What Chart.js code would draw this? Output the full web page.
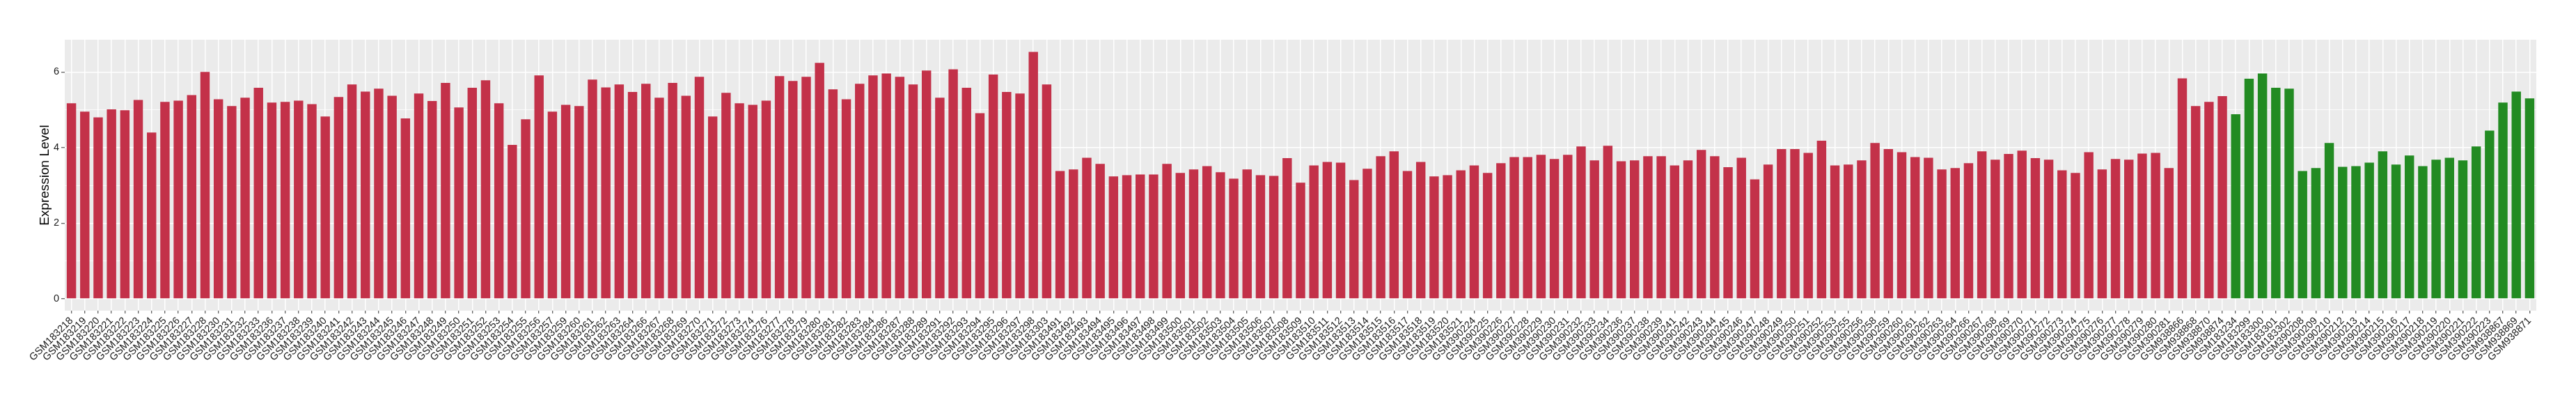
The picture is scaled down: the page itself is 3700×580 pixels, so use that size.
<!DOCTYPE html>
<html>
<head>
<meta charset="utf-8">
<script src="https://cdn.jsdelivr.net/npm/chart.js@4.4.1/dist/chart.umd.min.js"></script>
<style>
    html, body { margin: 0; padding: 0; background: #ffffff; }
    #wrap { width: 3700px; height: 580px; }
</style>
</head>
<body>
<div id="wrap"><canvas id="chart" width="3700" height="580"></canvas></div>
<script>
// samples drawn in red (first group), in plot order
const redSamples = [
    'GSM183218', 'GSM183219', 'GSM183220', 'GSM183221', 'GSM183222', 'GSM183223', 'GSM183224', 'GSM183225',
    'GSM183226', 'GSM183227', 'GSM183228', 'GSM183230', 'GSM183231', 'GSM183232', 'GSM183233', 'GSM183236',
    'GSM183237', 'GSM183238', 'GSM183239', 'GSM183240', 'GSM183241', 'GSM183242', 'GSM183243', 'GSM183244',
    'GSM183245', 'GSM183246', 'GSM183247', 'GSM183248', 'GSM183249', 'GSM183250', 'GSM183251', 'GSM183252',
    'GSM183253', 'GSM183254', 'GSM183255', 'GSM183256', 'GSM183257', 'GSM183259', 'GSM183260', 'GSM183261',
    'GSM183262', 'GSM183263', 'GSM183264', 'GSM183266', 'GSM183267', 'GSM183268', 'GSM183269', 'GSM183270',
    'GSM183271', 'GSM183272', 'GSM183273', 'GSM183274', 'GSM183276', 'GSM183277', 'GSM183278', 'GSM183279',
    'GSM183280', 'GSM183281', 'GSM183282', 'GSM183283', 'GSM183284', 'GSM183286', 'GSM183287', 'GSM183288',
    'GSM183289', 'GSM183291', 'GSM183292', 'GSM183293', 'GSM183294', 'GSM183295', 'GSM183296', 'GSM183297',
    'GSM183298', 'GSM183303',
    'GSM183491', 'GSM183492', 'GSM183493', 'GSM183494', 'GSM183495', 'GSM183496', 'GSM183497', 'GSM183498',
    'GSM183499', 'GSM183500', 'GSM183501', 'GSM183502', 'GSM183503', 'GSM183504', 'GSM183505', 'GSM183506',
    'GSM183507', 'GSM183508', 'GSM183509', 'GSM183510', 'GSM183511', 'GSM183512', 'GSM183513', 'GSM183514',
    'GSM183515', 'GSM183516', 'GSM183517', 'GSM183518', 'GSM183519', 'GSM183520', 'GSM183521',
    'GSM390224', 'GSM390225', 'GSM390226', 'GSM390227', 'GSM390228', 'GSM390229', 'GSM390230', 'GSM390231',
    'GSM390232', 'GSM390233', 'GSM390234', 'GSM390236', 'GSM390237', 'GSM390238', 'GSM390239', 'GSM390241',
    'GSM390242', 'GSM390243', 'GSM390244', 'GSM390245', 'GSM390246', 'GSM390247', 'GSM390248', 'GSM390249',
    'GSM390250', 'GSM390251', 'GSM390252', 'GSM390253', 'GSM390255', 'GSM390256', 'GSM390258', 'GSM390259',
    'GSM390260', 'GSM390261', 'GSM390262', 'GSM390263', 'GSM390264', 'GSM390266', 'GSM390267', 'GSM390268',
    'GSM390269', 'GSM390270', 'GSM390271', 'GSM390272', 'GSM390273', 'GSM390274', 'GSM390275', 'GSM390276',
    'GSM390277', 'GSM390278', 'GSM390279', 'GSM390280', 'GSM390281',
    'GSM938866', 'GSM938868', 'GSM938870', 'GSM938874'
];
const redValues = [
    5.17, 4.95, 4.80, 5.01, 4.99, 5.26, 4.40, 5.21, 5.24, 5.39, 6.00, 5.28, 5.10, 5.32, 5.58, 5.19,
    5.21, 5.24, 5.15, 4.82, 5.34, 5.67, 5.48, 5.56, 5.37, 4.77, 5.43, 5.23, 5.71, 5.06, 5.58, 5.78,
    5.17, 4.07, 4.75, 5.91, 4.95, 5.13, 5.10, 5.80, 5.59, 5.67, 5.47, 5.69, 5.32, 5.71, 5.37, 5.87,
    4.82, 5.45, 5.17, 5.13, 5.24, 5.89, 5.76, 5.87, 6.24, 5.54, 5.28, 5.69, 5.91, 5.96, 5.87, 5.67,
    6.04, 5.32, 6.07, 5.58, 4.91, 5.93, 5.47, 5.43, 6.53, 5.67,
    3.38, 3.42, 3.73, 3.57, 3.24, 3.27, 3.29, 3.29, 3.57, 3.33, 3.42, 3.51, 3.35, 3.18, 3.42, 3.27,
    3.25, 3.72, 3.07, 3.53, 3.62, 3.60, 3.14, 3.44, 3.77, 3.90, 3.38, 3.62, 3.24, 3.27, 3.40,
    3.53, 3.33, 3.59, 3.75, 3.75, 3.81, 3.70, 3.81, 4.03, 3.66, 4.05, 3.64, 3.66, 3.77, 3.77, 3.53,
    3.66, 3.94, 3.77, 3.48, 3.73, 3.16, 3.55, 3.96, 3.96, 3.86, 4.18, 3.53, 3.55, 3.66, 4.12, 3.96,
    3.88, 3.75, 3.73, 3.42, 3.46, 3.59, 3.90, 3.68, 3.83, 3.92, 3.72, 3.68, 3.40, 3.33, 3.88, 3.42,
    3.70, 3.68, 3.84, 3.86, 3.46,
    5.83, 5.10, 5.21, 5.36
];

// samples drawn in green (second group)
const greenSamples = [
    'GSM183234', 'GSM183299', 'GSM183300', 'GSM183301', 'GSM183302',
    'GSM390208', 'GSM390209', 'GSM390210', 'GSM390212', 'GSM390213', 'GSM390214', 'GSM390215', 'GSM390216',
    'GSM390217', 'GSM390218', 'GSM390219', 'GSM390220', 'GSM390221', 'GSM390222', 'GSM390223',
    'GSM938867', 'GSM938869', 'GSM938871'
];
const greenValues = [
    4.88, 5.82, 5.96, 5.58, 5.56,
    3.38, 3.46, 4.12, 3.49, 3.51, 3.60, 3.90, 3.55, 3.79, 3.51, 3.68, 3.73, 3.66, 4.03, 4.45,
    5.19, 5.48, 5.30
];

const yTicks = [0, 1, 2, 3, 4, 5, 6];
const yTickLabels = ['0', '', '2', '', '4', '', '6'];

const RED = '#C33149';
const GREEN = '#228B22';
const FONT = "'Liberation Sans', Arial, Helvetica, sans-serif";

const labels = redSamples.concat(greenSamples);
const values = redValues.concat(greenValues);
const colors = redSamples.map(() => RED).concat(greenSamples.map(() => GREEN));

// grey ggplot-style panel behind the grid
const panelBg = {
    id: 'panelBg',
    beforeDraw(chart) {
        const { ctx, chartArea: a } = chart;
        ctx.save();
        ctx.fillStyle = '#EBEBEB';
        ctx.fillRect(a.left, a.top, a.right - a.left, a.bottom - a.top);
        ctx.restore();
    }
};

new Chart(document.getElementById('chart').getContext('2d'), {
    type: 'bar',
    data: {
        labels: labels,
        datasets: [{
            data: values,
            backgroundColor: colors,
            borderWidth: 0,
            barPercentage: 0.7,
            categoryPercentage: 1.0
        }]
    },
    options: {
        responsive: false,
        devicePixelRatio: 1,
        animation: false,
        layout: { padding: { top: 57, right: 57, left: 0, bottom: 0 } },
        plugins: {
            legend: { display: false },
            tooltip: { enabled: false }
        },
        scales: {
            x: {
                type: 'category',
                offset: true,
                border: { display: false },
                grid: {
                    offset: false,
                    color: '#FFFFFF',
                    lineWidth: 1.5,
                    drawTicks: true,
                    tickLength: 4,
                    tickColor: '#333333',
                    tickWidth: 1
                },
                ticks: {
                    autoSkip: false,
                    maxRotation: 45,
                    minRotation: 45,
                    padding: 2,
                    color: '#1A1A1A',
                    font: { family: FONT, size: 14.5 }
                },
                afterFit(s) { s.height = 134; }
            },
            y: {
                min: -0.313,
                max: 6.853,
                border: { display: false },
                afterBuildTicks(s) { s.ticks = yTicks.map(v => ({ value: v })); },
                grid: {
                    color: '#FFFFFF',
                    lineWidth: (ctx) => (ctx.index % 2 === 0 ? 1.6 : 0.8),
                    tickColor: (ctx) => (ctx.index % 2 === 0 ? '#333333' : 'rgba(0,0,0,0)'),
                    tickLength: 5,
                    tickWidth: 1
                },
                ticks: {
                    padding: 3,
                    color: '#1A1A1A',
                    font: { family: FONT, size: 14.5 },
                    callback: (v, i) => yTickLabels[i]
                },
                title: {
                    display: true,
                    text: 'Expression Level',
                    color: '#000000',
                    font: { family: FONT, size: 19 },
                    padding: { top: 53, bottom: 0 }
                },
                afterFit(s) { s.width = 93; }
            }
        }
    },
    plugins: [panelBg]
});
</script>
</body>
</html>
